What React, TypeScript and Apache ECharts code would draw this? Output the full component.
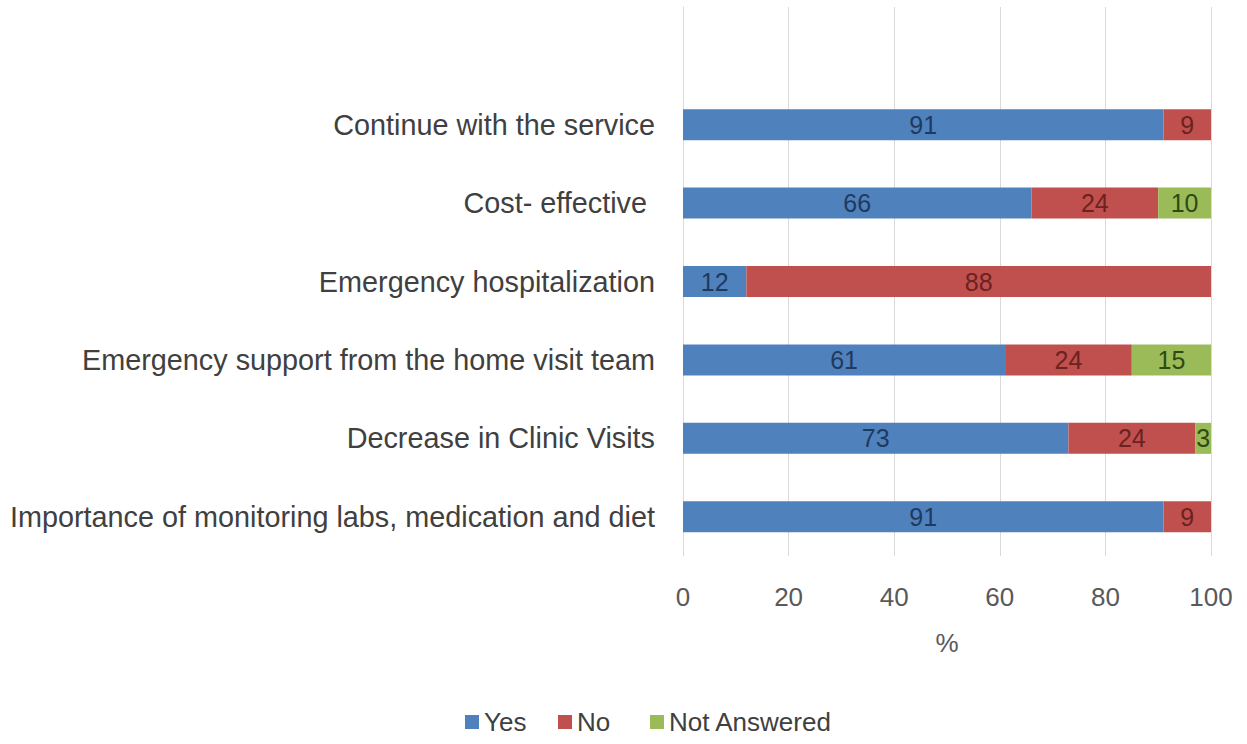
import React, { useEffect, useRef } from "react";
import * as echarts from "echarts";

const categories = [
  "Importance of monitoring labs, medication and diet",
  "Decrease in Clinic Visits",
  "Emergency support from the home visit team",
  "Emergency hospitalization",
  "Cost- effective ",
  "Continue with the service",
  "",
];
const yesValues = [91, 73, 61, 12, 66, 91, null];
const noValues = [9, 24, 24, 88, 24, 9, null];
const notAnsweredValues = [null, 3, 15, null, 10, null, null];
const xTicks = [0, 20, 40, 60, 80, 100];
const legendNames = ["Yes", "No", "Not Answered"];

const FONT = "'Liberation Sans', 'DejaVu Sans', sans-serif";

export default function App() {
  const ref = useRef<HTMLDivElement>(null);
  useEffect(() => {
    if (!ref.current) return;
    const chart = echarts.init(ref.current, null, { renderer: "svg" });
    const labelFor = (color: string) => ({
      show: true,
      position: "inside",
      color,
      fontSize: 25,
      fontFamily: FONT,
      formatter: (p: any) => (p.value == null ? "" : String(p.value)),
    });
    const legendLefts = [465, 558, 650];
    chart.setOption({
      animation: false,
      backgroundColor: "#ffffff",
      grid: { left: 683, right: 36, top: 7, bottom: 188, containLabel: false },
      legend: legendNames.map((n, i) => ({
        top: 709,
        left: legendLefts[i],
        padding: 0,
        itemWidth: 14,
        itemHeight: 14,
        itemGap: 0,
        icon: "rect",
        textStyle: { fontSize: 26, color: "#404040", fontFamily: FONT },
        data: [n],
      })),
      xAxis: {
        type: "value",
        min: 0,
        max: 100,
        interval: 20,
        name: "%",
        nameLocation: "middle",
        nameGap: 74,
        nameTextStyle: { fontSize: 26, color: "#595959", fontFamily: FONT },
        axisLine: { show: false },
        axisTick: { show: false },
        axisLabel: {
          fontSize: 26,
          color: "#595959",
          fontFamily: FONT,
          margin: 28,
          formatter: (v: number) => (xTicks.includes(v) ? String(v) : ""),
        },
        splitLine: { show: true, lineStyle: { color: "#d9d9d9", width: 1 } },
      },
      yAxis: {
        type: "category",
        data: categories,
        axisLine: { show: true, lineStyle: { color: "#d9d9d9" } },
        axisTick: { show: false },
        axisLabel: {
          fontSize: 28.8,
          color: "#404040",
          fontFamily: FONT,
          margin: 28,
        },
      },
      series: [
        {
          name: "Yes",
          type: "bar",
          stack: "total",
          barWidth: 31,
          itemStyle: { color: "#4F81BD" },
          label: labelFor("#1f3a5f"),
          data: yesValues,
        },
        {
          name: "No",
          type: "bar",
          stack: "total",
          barWidth: 31,
          itemStyle: { color: "#C0504D" },
          label: labelFor("#6b2220"),
          data: noValues,
        },
        {
          name: "Not Answered",
          type: "bar",
          stack: "total",
          barWidth: 31,
          itemStyle: { color: "#9BBB59" },
          label: labelFor("#2e4a12"),
          data: notAnsweredValues,
        },
      ],
    });
    return () => chart.dispose();
  }, []);
  return (
    <div
      ref={ref}
      style={{ position: "fixed", left: 0, top: 0, width: 1247, height: 744 }}
    />
  );
}
